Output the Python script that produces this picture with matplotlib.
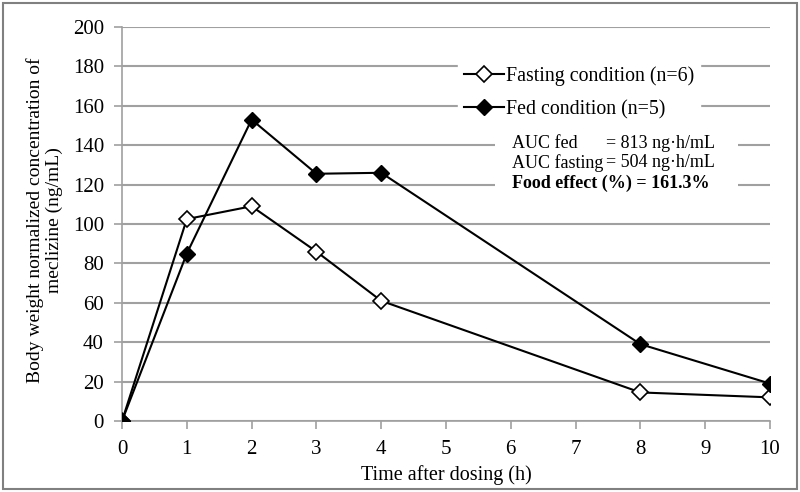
import matplotlib
matplotlib.use("Agg")
import matplotlib.pyplot as plt
from matplotlib.patches import Rectangle

time_h = [0, 1, 2, 3, 4, 8, 10]
fasting = [0, 102.5, 109, 86, 61, 14.5, 12]
fed = [0, 85, 153, 125.5, 126, 39, 19]
x_ticks = list(range(0, 11))
y_ticks = list(range(0, 201, 20))

plt.rcParams['font.family'] = ['Liberation Serif', 'DejaVu Serif']

fig = plt.figure(figsize=(8, 4.92), dpi=100)
ax = fig.add_axes([122/800, 1-421/492, (770-122)/800, (421-27)/492])

ax.plot(time_h, fasting, color='black', lw=1.5, marker='D', ms=8.5,
        mfc='white', mec='black', mew=1.2, label='Fasting condition (n=6)', zorder=3)
ax.plot(time_h, fed, color='black', lw=1.5, marker='D', ms=8.5,
        mfc='black', mec='black', label='Fed condition (n=5)', zorder=3)

ax.set_xlim(0, 10)
ax.set_ylim(0, 200)
ax.set_xticks(x_ticks)
ax.set_yticks(y_ticks)
ax.yaxis.grid(True, color='#a0a0a0', lw=1.5)
ax.set_axisbelow(True)
for s in ['top', 'right']:
    ax.spines[s].set_visible(False)
for s in ['left', 'bottom']:
    ax.spines[s].set_color('#a0a0a0')
    ax.spines[s].set_linewidth(1.2)
ax.tick_params(axis='both', colors='#a0a0a0', length=6, width=1.2, labelsize=15,
               labelcolor='black')
ax.tick_params(axis='x', pad=8)
ax.tick_params(axis='y', pad=7)
for lab in ax.get_xticklabels() + ax.get_yticklabels():
    lab.set_clip_on(False)

ax.set_xlabel('Time after dosing (h)', fontsize=14.5, labelpad=4)
fig.text(44.5/800, 1-220/492, 'Body weight normalized concentration of\nmeclizine (ng/mL)',
         fontsize=14, rotation=90, ha='center', va='center', linespacing=1.15,
         multialignment='center')

leg = ax.legend(loc='upper left', bbox_to_anchor=(0.519, 0.915), frameon=True,
                fontsize=14.3, handlelength=2.0, handletextpad=0.1,
                borderaxespad=0, labelspacing=0.7, borderpad=0.3)
leg.get_frame().set_edgecolor('white')
leg.get_frame().set_facecolor('white')
leg.get_frame().set_alpha(1)

# AUC text box
ax.add_patch(Rectangle((5.76, 114.5), 3.74, 30.5, transform=ax.transData,
                       facecolor='white', edgecolor='none', zorder=2))
fs = 13
ax.text(6.02, 141.1, 'AUC fed', fontsize=fs, va='center', ha='left', zorder=4)
ax.text(7.47, 141.1, '= 813 ng\u00b7h/mL', fontsize=fs, va='center', ha='left', zorder=4)
ax.text(6.02, 131.0, 'AUC fasting', fontsize=fs, va='center', ha='left', zorder=4)
ax.text(7.47, 131.0, '= 504 ng\u00b7h/mL', fontsize=fs, va='center', ha='left', zorder=4)
ax.text(6.02, 120.8, 'Food effect (%) = 161.3%', fontsize=fs, va='center', ha='left',
        fontweight='bold', zorder=4)

fig.patches.append(Rectangle((3/800, 3/492), 794/800, 486/492, transform=fig.transFigure,
                             fill=False, edgecolor='#808080', lw=1.5))

fig.savefig('out.png', dpi=100)
